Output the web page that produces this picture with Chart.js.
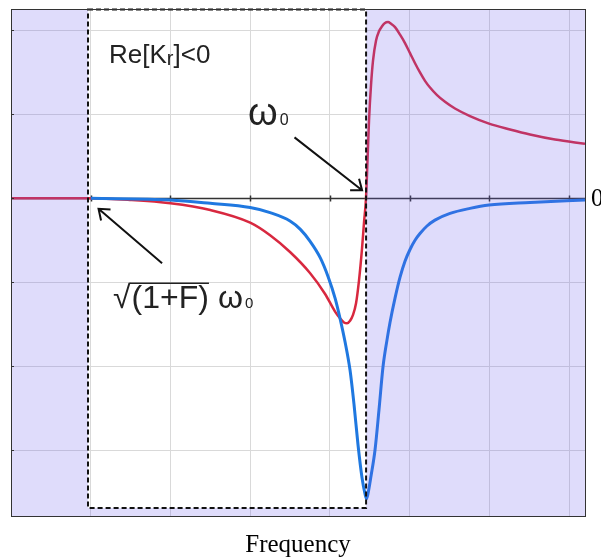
<!DOCTYPE html>
<html>
<head>
<meta charset="utf-8">
<script src="https://cdn.jsdelivr.net/npm/chart.js@4"></script>
<style>
  body { margin: 0; background: #fff; }
  canvas { display: block; }
</style>
</head>
<body>
<canvas id="resonanceChart" width="601" height="560"></canvas>
<script>
// grid positions and the only tick label
const freqTicks = [0, 1, 2, 3, 4, 5, 6, 7];
const levelTicks = [-3, -2, -1, 0, 1, 2];
const rightLabel = '0';

// red curve (real part)
const redFreq = [0, 1.0, 1.49, 2.0, 2.5, 3.0, 3.25, 3.5, 3.75, 3.94, 4.065, 4.127, 4.177, 4.215, 4.253, 4.290, 4.328, 4.365, 4.403, 4.428, 4.453,
  4.472, 4.491, 4.516, 4.541, 4.579, 4.616, 4.654, 4.691, 4.729, 4.767, 4.817, 4.880, 4.942, 5.005, 5.068, 5.130, 5.193, 5.256, 5.344, 5.444, 5.569,
  5.757, 5.996, 6.259, 6.510, 6.824, 7.2];
const redValue = [0, 0, -0.02, -0.06, -0.14, -0.29, -0.44, -0.64, -0.89, -1.14, -1.35, -1.43, -1.48, -1.49, -1.46, -1.39, -1.25, -0.98, -0.60, -0.29, 0,
  0.45, 0.93, 1.35, 1.64, 1.88, 1.99, 2.05, 2.09, 2.10, 2.08, 2.04, 1.95, 1.85, 1.73, 1.61, 1.50, 1.40, 1.32, 1.23, 1.15, 1.07,
  0.98, 0.89, 0.82, 0.76, 0.70, 0.65];

// blue curve (imaginary part)
const blueFreq = [1.0, 2.0, 2.5, 3.0, 3.25, 3.5, 3.63, 3.75, 3.88, 3.98, 4.065, 4.127, 4.190, 4.253, 4.303, 4.353, 4.403, 4.440, 4.459, 4.478,
  4.516, 4.566, 4.616, 4.666, 4.716, 4.754, 4.817, 4.880, 4.942, 5.005, 5.068, 5.130, 5.218, 5.318, 5.507, 5.757, 5.996, 6.510, 7.2];
const blueValue = [0, -0.02, -0.06, -0.11, -0.17, -0.27, -0.37, -0.51, -0.71, -0.94, -1.19, -1.43, -1.71, -2.05, -2.46, -2.94, -3.33, -3.52, -3.58, -3.52,
  -3.31, -3.0, -2.52, -2.01, -1.69, -1.48, -1.19, -0.94, -0.75, -0.61, -0.50, -0.42, -0.33, -0.26, -0.18, -0.12, -0.08, -0.05, -0.02];

// edges of the Re[Kr]<0 band
const bandLeft = 0.966;
const bandRight = 4.454;
const bandBottom = -3.69;

const toPoints = (xs, ys) => xs.map((x, i) => ({ x: x, y: ys[i] }));

function arrow(ctx, x0, y0, x1, y1) {
    const ang = Math.atan2(y1 - y0, x1 - x0);
    const len = 12;
    ctx.beginPath();
    ctx.moveTo(x0, y0);
    ctx.lineTo(x1, y1);
    ctx.moveTo(x1 - len * Math.cos(ang - 0.65), y1 - len * Math.sin(ang - 0.65));
    ctx.lineTo(x1, y1);
    ctx.lineTo(x1 - len * Math.cos(ang + 0.65), y1 - len * Math.sin(ang + 0.65));
    ctx.stroke();
}

const decorations = {
    id: 'decorations',
    beforeDatasetsDraw(chart) {
        const { ctx, chartArea: a, scales: { x, y } } = chart;
        const y0 = Math.round(y.getPixelForValue(0)) + 0.5;
        ctx.save();
        ctx.strokeStyle = '#333';
        ctx.lineWidth = 1.5;
        ctx.beginPath();
        ctx.moveTo(a.left, y0);
        ctx.lineTo(a.right, y0);
        freqTicks.forEach(v => {
            if (v === 0) return;
            const px = Math.round(x.getPixelForValue(v)) + 0.5;
            ctx.moveTo(px, y0 - 3);
            ctx.lineTo(px, y0 + 3);
        });
        ctx.stroke();
        ctx.restore();
    },
    afterDatasetsDraw(chart) {
        const { ctx, chartArea: a, scales: { x, y } } = chart;
        const bl = x.getPixelForValue(bandLeft);
        const br = x.getPixelForValue(bandRight);
        const bb = y.getPixelForValue(bandBottom);
        ctx.save();

        // lavender shading outside the band
        ctx.fillStyle = 'rgba(110, 95, 235, 0.22)';
        ctx.beginPath();
        ctx.rect(a.left, a.top, a.width, a.height);
        ctx.rect(bl, a.top, br - bl, bb - a.top);
        ctx.fill('evenodd');

        // dashed band outline
        ctx.strokeStyle = '#111';
        ctx.lineWidth = 2;
        ctx.setLineDash([5, 3]);
        ctx.strokeRect(bl, a.top + 0.5, br - bl, bb - a.top - 0.5);
        ctx.setLineDash([]);

        // plot frame
        ctx.strokeStyle = '#333';
        ctx.lineWidth = 1;
        ctx.strokeRect(Math.round(a.left) + 0.5, Math.round(a.top) + 0.5, Math.round(a.width), Math.round(a.height));
        ctx.beginPath();
        levelTicks.forEach(v => {
            const py = Math.round(y.getPixelForValue(v)) + 0.5;
            ctx.moveTo(a.left, py);
            ctx.lineTo(a.left + 3, py);
        });
        ctx.stroke();

        // annotations
        ctx.fillStyle = '#222';
        ctx.textBaseline = 'alphabetic';
        ctx.textAlign = 'left';
        let tx = x.getPixelForValue(1.23);
        let ty = y.getPixelForValue(1.607);
        ctx.font = '26px "Liberation Sans", Arial, sans-serif';
        ctx.fillText('Re[K', tx, ty);
        tx += ctx.measureText('Re[K').width;
        ctx.font = '20px "Liberation Sans", Arial, sans-serif';
        ctx.fillText('r', tx, ty + 2);
        tx += ctx.measureText('r').width;
        ctx.font = '26px "Liberation Sans", Arial, sans-serif';
        ctx.fillText(']<0', tx, ty);

        tx = x.getPixelForValue(2.974);
        ty = y.getPixelForValue(0.869);
        ctx.font = '38px "Liberation Sans", Arial, sans-serif';
        ctx.fillText('ω', tx, ty);
        tx += ctx.measureText('ω').width + 2;
        ctx.font = '16px "Liberation Sans", Arial, sans-serif';
        ctx.fillText('0', tx, ty);

        tx = x.getPixelForValue(1.28);
        ty = y.getPixelForValue(-1.31);
        ctx.font = '32px "Liberation Sans", Arial, sans-serif';
        const root = ctx.measureText('√');
        ctx.fillText('√', tx, ty);
        const barY = ty - root.actualBoundingBoxAscent + 1;
        const barStart = tx + root.width - 1;
        tx += root.width + 1;
        ctx.fillText('(1+F)', tx, ty);
        tx += ctx.measureText('(1+F)').width;
        ctx.strokeStyle = '#222';
        ctx.lineWidth = 1.5;
        ctx.beginPath();
        ctx.moveTo(barStart, barY);
        ctx.lineTo(tx, barY);
        ctx.stroke();
        tx += 9;
        ctx.fillText('ω', tx, ty);
        tx += ctx.measureText('ω').width + 2;
        ctx.font = '15px "Liberation Sans", Arial, sans-serif';
        ctx.fillText('0', tx, ty);

        ctx.strokeStyle = '#111';
        ctx.lineWidth = 2;
        arrow(ctx, x.getPixelForValue(3.556), y.getPixelForValue(0.726), x.getPixelForValue(4.404), y.getPixelForValue(0.095));
        arrow(ctx, x.getPixelForValue(1.895), y.getPixelForValue(-0.774), x.getPixelForValue(1.098), y.getPixelForValue(-0.125));

        // the single value label on the right
        ctx.fillStyle = '#000';
        ctx.font = '25px "Liberation Serif", "Times New Roman", serif';
        ctx.textBaseline = 'middle';
        ctx.fillText(rightLabel, a.right + 6, y.getPixelForValue(0) + 1);
        ctx.restore();
    }
};

new Chart(document.getElementById('resonanceChart'), {
    type: 'line',
    data: {
        datasets: [
            {
                label: 'Im',
                data: toPoints(blueFreq, blueValue),
                borderColor: '#1f78e0',
                borderWidth: 3,
                pointRadius: 0,
                cubicInterpolationMode: 'monotone',
                fill: false
            },
            {
                label: 'Re',
                data: toPoints(redFreq, redValue),
                borderColor: '#d8283f',
                borderWidth: 2.5,
                pointRadius: 0,
                cubicInterpolationMode: 'monotone',
                fill: false
            }
        ]
    },
    options: {
        responsive: false,
        animation: false,
        devicePixelRatio: 1,
        layout: { padding: { left: 11, right: 16, top: 9, bottom: 0 } },
        plugins: { legend: { display: false }, tooltip: { enabled: false } },
        scales: {
            x: {
                type: 'linear',
                min: 0,
                max: 7.2,
                afterBuildTicks: scale => { scale.ticks = freqTicks.map(v => ({ value: v })); },
                ticks: { display: false },
                grid: { color: '#d9d9d9', drawTicks: false },
                border: { display: false },
                title: {
                    display: true,
                    text: 'Frequency',
                    color: '#000',
                    font: { family: '"Liberation Serif", "Times New Roman", serif', size: 25 },
                    padding: { top: 14, bottom: 0 }
                }
            },
            y: {
                type: 'linear',
                min: -3.786,
                max: 2.256,
                afterBuildTicks: scale => { scale.ticks = levelTicks.map(v => ({ value: v })); },
                ticks: { display: false },
                grid: { color: '#d9d9d9', drawTicks: false },
                border: { display: false }
            }
        }
    },
    plugins: [decorations]
});
</script>
</body>
</html>
